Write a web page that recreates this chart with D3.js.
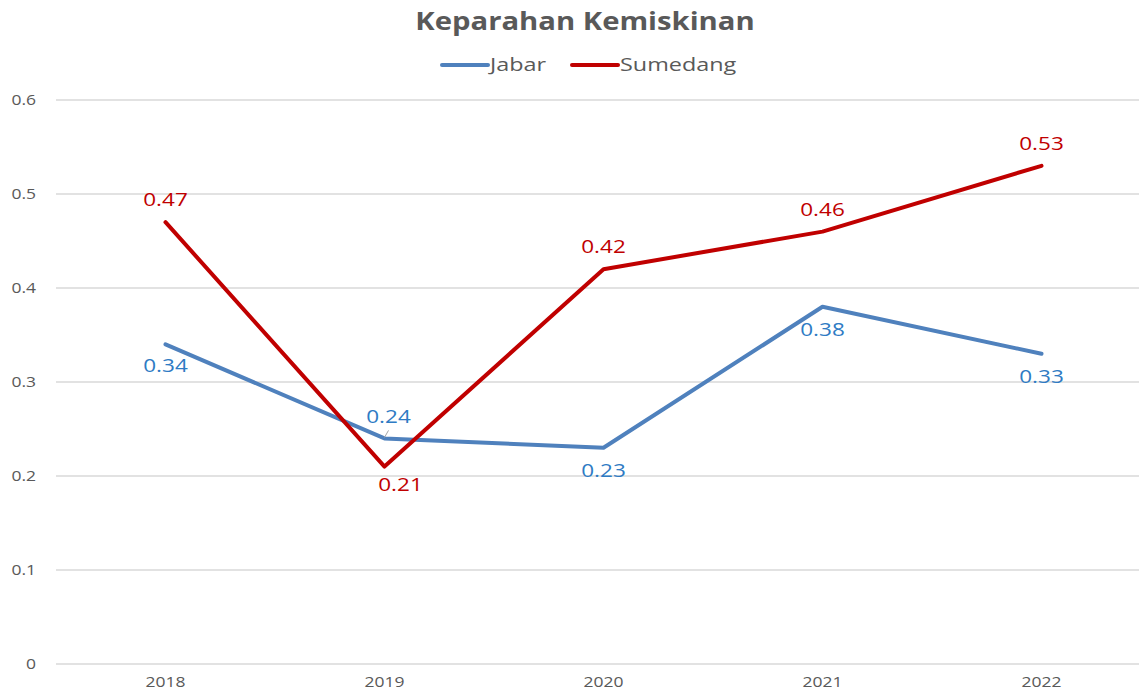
<!DOCTYPE html>
<html>
<head>
<meta charset="utf-8">
<script src="https://cdn.jsdelivr.net/npm/d3@7"></script>
<style>
body { margin: 0; background: #fff; }
text { font-family: "Open Sans", "DejaVu Sans", sans-serif; }
</style>
</head>
<body>
<div id="chart"></div>
<script>
// Data
var years = ["2018", "2019", "2020", "2021", "2022"];
var jabar = [0.34, 0.24, 0.23, 0.38, 0.33];
var sumedang = [0.47, 0.21, 0.42, 0.46, 0.53];
var yTicks = [0, 0.1, 0.2, 0.3, 0.4, 0.5, 0.6];

var W = 1139, H = 692;
var plot = {left: 56, right: 1151, top: 100, bottom: 664};
var stretch = 1.25; // reference text is drawn horizontally stretched

var svg = d3.select("#chart").append("svg")
    .attr("width", W)
    .attr("height", H);

var x = d3.scaleBand()
    .domain(years)
    .range([plot.left, plot.right]);

var y = d3.scaleLinear()
    .domain([0, 0.6])
    .range([plot.bottom, plot.top]);

function cx(d, i) { return x(years[i]) + x.bandwidth() / 2; }

function place(tx, ty, s) {
  return "translate(" + tx + "," + ty + ") scale(" + (s || stretch) + ",1)";
}

// gridlines
svg.append("g").selectAll("line")
    .data(yTicks)
    .enter().append("line")
    .attr("x1", plot.left)
    .attr("x2", W)
    .attr("y1", function(d) { return y(d); })
    .attr("y2", function(d) { return y(d); })
    .attr("stroke", "#d9d9d9")
    .attr("stroke-width", 1.3);

// y tick labels
svg.append("g").selectAll("text")
    .data(yTicks)
    .enter().append("text")
    .attr("transform", function(d) { return place(36, y(d)); })
    .attr("dy", "0.35em")
    .attr("text-anchor", "end")
    .attr("fill", "#595959")
    .style("font-size", "14px")
    .text(function(d) { return d === 0 ? "0" : d3.format(".1f")(d); });

// x tick labels
svg.append("g").selectAll("text")
    .data(years)
    .enter().append("text")
    .attr("transform", function(d) { return place(x(d) + x.bandwidth() / 2, 687); })
    .attr("text-anchor", "middle")
    .attr("fill", "#595959")
    .style("font-size", "14px")
    .text(function(d) { return d; });

var line = d3.line()
    .x(cx)
    .y(function(d) { return y(d); });

var series = [
  {name: "Jabar", values: jabar, color: "#4F81BD", label: "#2E7BC4"},
  {name: "Sumedang", values: sumedang, color: "#C00000", label: "#C00000"}
];

series.forEach(function(s) {
  svg.append("path")
      .datum(s.values)
      .attr("d", line)
      .attr("fill", "none")
      .attr("stroke", s.color)
      .attr("stroke-width", 4)
      .attr("stroke-linejoin", "round")
      .attr("stroke-linecap", "round");
});

// data label offsets per point (positive dy = below)
var jabarPos = [{dx: 0, dy: 28}, {dx: 4, dy: -15}, {dx: 0, dy: 29}, {dx: 0, dy: 29}, {dx: 0, dy: 29}];
var sumPos = [{dx: 0, dy: -16}, {dx: 16, dy: 24}, {dx: 0, dy: -16}, {dx: 0, dy: -16}, {dx: 0, dy: -16}];

// leader line for 2019 Jabar label
svg.append("line")
    .attr("x1", cx(null, 1))
    .attr("y1", y(jabar[1]) - 1)
    .attr("x2", cx(null, 1) + 4)
    .attr("y2", y(jabar[1]) - 8)
    .attr("stroke", "#a6a6a6")
    .attr("stroke-width", 1);

function labels(s, pos) {
  svg.append("g").selectAll("text")
      .data(s.values)
      .enter().append("text")
      .attr("transform", function(d, i) { return place(cx(d, i) + pos[i].dx, y(d) + pos[i].dy); })
      .attr("text-anchor", "middle")
      .attr("fill", s.label)
      .style("font-size", "18px")
      .text(function(d) { return d3.format(".2f")(d); });
}
labels(series[0], jabarPos);
labels(series[1], sumPos);

// title
svg.append("text")
    .attr("transform", place(585, 30, 1.17))
    .attr("text-anchor", "middle")
    .attr("fill", "#595959")
    .style("font-size", "25px")
    .style("font-weight", "bold")
    .text("Keparahan Kemiskinan");

// legend
var legend = svg.append("g");
var legendItems = [{x: 442, tx: 490}, {x: 572, tx: 620}];
series.forEach(function(s, i) {
  legend.append("line")
      .attr("x1", legendItems[i].x)
      .attr("x2", legendItems[i].x + 46)
      .attr("y1", 65)
      .attr("y2", 65)
      .attr("stroke", s.color)
      .attr("stroke-width", 4)
      .attr("stroke-linecap", "round");
  legend.append("text")
      .attr("transform", place(legendItems[i].tx, 65, 1.3))
      .attr("dy", "0.35em")
      .attr("fill", "#595959")
      .style("font-size", "18px")
      .text(s.name);
});
</script>
</body>
</html>
